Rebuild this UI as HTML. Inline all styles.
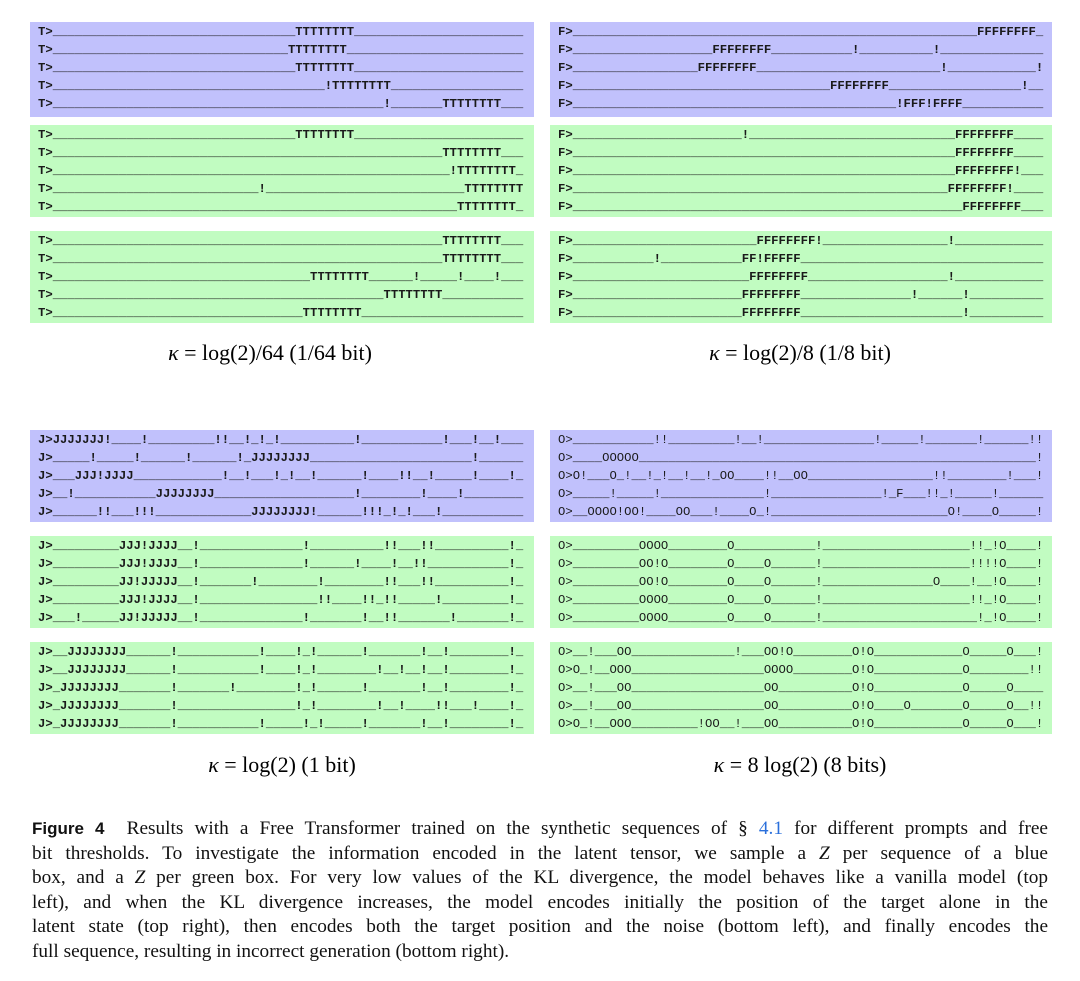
<!DOCTYPE html>
<html><head><meta charset="utf-8">
<style>
html,body{margin:0;padding:0;background:#fff;}
body{width:1080px;height:981px;position:relative;overflow:hidden;}
.box{position:absolute;padding-top:1px;box-sizing:border-box;}
.b{background:#c1c1fc;}
.g{background:#c1fcc1;}
.box div{font-family:"Liberation Mono",monospace;font-weight:bold;font-size:12.25px;line-height:18px;height:18px;white-space:pre;color:#1a1a1a;padding-left:8px;overflow:hidden;}
.box.o div{font-weight:normal;}
.cap{position:absolute;font-family:"Liberation Serif",serif;font-size:22px;text-align:center;width:500px;}
.cap i{font-style:italic;}
#fig{position:absolute;left:32px;top:817px;width:1016px;font-family:"Liberation Serif",serif;font-size:19.3px;line-height:24.6px;color:#111;}
#fig div{text-align:justify;text-align-last:justify;white-space:nowrap;}
#fig div.last{text-align-last:left;}
#fig b{font-family:"Liberation Sans",sans-serif;font-weight:bold;font-size:17px;}
#fig span.l{color:#2a6fdb;}
</style></head><body>

<div class="box b" style="left:30px;top:22px;width:504px;height:95px;">
<div>T>_________________________________TTTTTTTT_______________________</div>
<div>T>________________________________TTTTTTTT________________________</div>
<div>T>_________________________________TTTTTTTT_______________________</div>
<div>T>_____________________________________!TTTTTTTT__________________</div>
<div>T>_____________________________________________!_______TTTTTTTT___</div>
</div>
<div class="box g" style="left:30px;top:125px;width:504px;height:92px;">
<div>T>_________________________________TTTTTTTT_______________________</div>
<div>T>_____________________________________________________TTTTTTTT___</div>
<div>T>______________________________________________________!TTTTTTTT_</div>
<div>T>____________________________!___________________________TTTTTTTT</div>
<div>T>_______________________________________________________TTTTTTTT_</div>
</div>
<div class="box g" style="left:30px;top:231px;width:504px;height:92px;">
<div>T>_____________________________________________________TTTTTTTT___</div>
<div>T>_____________________________________________________TTTTTTTT___</div>
<div>T>___________________________________TTTTTTTT______!_____!____!___</div>
<div>T>_____________________________________________TTTTTTTT___________</div>
<div>T>__________________________________TTTTTTTT______________________</div>
</div>

<div class="box b" style="left:550px;top:22px;width:502px;height:95px;">
<div>F>_______________________________________________________FFFFFFFF_</div>
<div>F>___________________FFFFFFFF___________!__________!______________</div>
<div>F>_________________FFFFFFFF_________________________!____________!</div>
<div>F>___________________________________FFFFFFFF__________________!__</div>
<div>F>____________________________________________!FFF!FFFF___________</div>
</div>
<div class="box g" style="left:550px;top:125px;width:502px;height:92px;">
<div>F>_______________________!____________________________FFFFFFFF____</div>
<div>F>____________________________________________________FFFFFFFF____</div>
<div>F>____________________________________________________FFFFFFFF!___</div>
<div>F>___________________________________________________FFFFFFFF!____</div>
<div>F>_____________________________________________________FFFFFFFF___</div>
</div>
<div class="box g" style="left:550px;top:231px;width:502px;height:92px;">
<div>F>_________________________FFFFFFFF!_________________!____________</div>
<div>F>___________!___________FF!FFFFF_________________________________</div>
<div>F>________________________FFFFFFFF___________________!____________</div>
<div>F>_______________________FFFFFFFF_______________!______!__________</div>
<div>F>_______________________FFFFFFFF______________________!__________</div>
</div>

<div class="cap" style="left:20px;top:340px;"><i>κ</i> = log(2)/64 (1/64 bit)</div>
<div class="cap" style="left:550px;top:340px;"><i>κ</i> = log(2)/8 (1/8 bit)</div>

<div class="box b" style="left:30px;top:430px;width:504px;height:92px;">
<div>J>JJJJJJJ!____!_________!!__!_!_!__________!___________!___!__!___</div>
<div>J>_____!_____!______!______!_JJJJJJJJ______________________!______</div>
<div>J>___JJJ!JJJJ____________!__!___!_!__!______!____!!__!_____!____!_</div>
<div>J>__!___________JJJJJJJJ___________________!________!____!________</div>
<div>J>______!!___!!!_____________JJJJJJJJ!______!!!_!_!___!___________</div>
</div>
<div class="box g" style="left:30px;top:536px;width:504px;height:92px;">
<div>J>_________JJJ!JJJJ__!______________!__________!!___!!__________!_</div>
<div>J>_________JJJ!JJJJ__!______________!______!____!__!!___________!_</div>
<div>J>_________JJ!JJJJJ__!_______!________!________!!___!!__________!_</div>
<div>J>_________JJJ!JJJJ__!________________!!____!!_!!_____!_________!_</div>
<div>J>___!_____JJ!JJJJJ__!______________!_______!__!!_______!_______!_</div>
</div>
<div class="box g" style="left:30px;top:642px;width:504px;height:92px;">
<div>J>__JJJJJJJJ______!___________!____!_!______!_______!__!________!_</div>
<div>J>__JJJJJJJJ______!___________!____!_!________!__!__!__!________!_</div>
<div>J>_JJJJJJJJ_______!_______!________!_!______!_______!__!________!_</div>
<div>J>_JJJJJJJJ_______!________________!_!________!__!____!!___!____!_</div>
<div>J>_JJJJJJJJ_______!___________!_____!_!_____!_______!__!________!_</div>
</div>

<div class="box b o" style="left:550px;top:430px;width:502px;height:92px;">
<div>O>___________!!_________!__!_______________!_____!_______!______!!</div>
<div>O>____OOOOO______________________________________________________!</div>
<div>O>O!___O_!__!_!__!__!_OO____!!__OO_________________!!________!___!</div>
<div>O>_____!_____!______________!_______________!_F___!!_!_____!______</div>
<div>O>__OOOO!OO!____OO___!____O_!________________________O!____O_____!</div>
</div>
<div class="box g o" style="left:550px;top:536px;width:502px;height:92px;">
<div>O>_________OOOO________O___________!____________________!!_!O____!</div>
<div>O>_________OO!O________O____O______!____________________!!!!O____!</div>
<div>O>_________OO!O________O____O______!_______________O____!__!O____!</div>
<div>O>_________OOOO________O____O______!____________________!!_!O____!</div>
<div>O>_________OOOO________O____O______!_____________________!_!O____!</div>
</div>
<div class="box g o" style="left:550px;top:642px;width:502px;height:92px;">
<div>O>__!___OO______________!___OO!O________O!O____________O_____O___!</div>
<div>O>O_!__OOO__________________OOOO________O!O____________O________!!</div>
<div>O>__!___OO__________________OO__________O!O____________O_____O____</div>
<div>O>__!___OO__________________OO__________O!O____O_______O_____O__!!</div>
<div>O>O_!__OOO_________!OO__!___OO__________O!O____________O_____O___!</div>
</div>

<div class="cap" style="left:32px;top:752px;"><i>κ</i> = log(2) (1 bit)</div>
<div class="cap" style="left:550px;top:752px;"><i>κ</i> = 8 log(2) (8 bits)</div>

<div id="fig">
<div><b>Figure 4</b>&nbsp; Results with a Free Transformer trained on the synthetic sequences of § <span class="l">4.1</span> for different prompts and free</div>
<div>bit thresholds. To investigate the information encoded in the latent tensor, we sample a <i>Z</i> per sequence of a blue</div>
<div>box, and a <i>Z</i> per green box. For very low values of the KL divergence, the model behaves like a vanilla model (top</div>
<div>left), and when the KL divergence increases, the model encodes initially the position of the target alone in the</div>
<div>latent state (top right), then encodes both the target position and the noise (bottom left), and finally encodes the</div>
<div class="last">full sequence, resulting in incorrect generation (bottom right).</div>
</div>
</body></html>
